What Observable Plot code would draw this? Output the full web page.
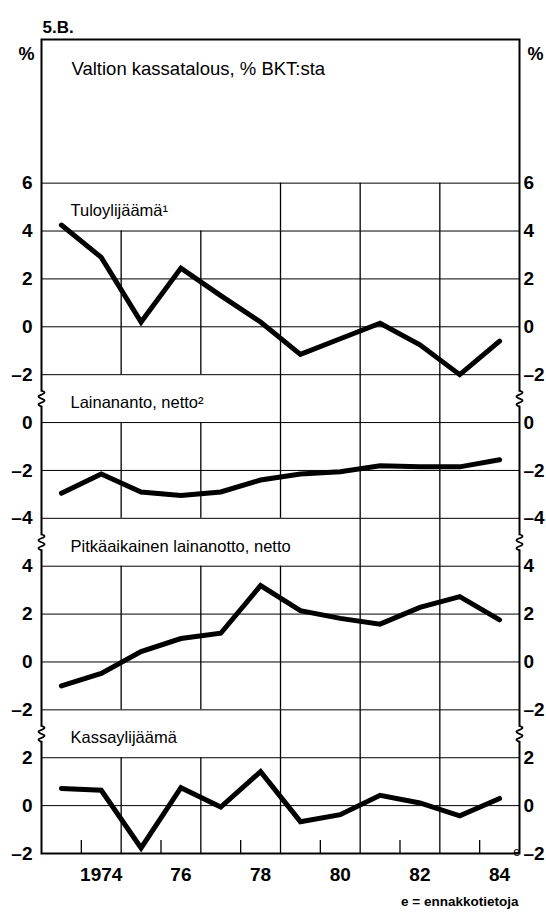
<!DOCTYPE html>
<html>
<head>
<meta charset="utf-8">
<script src="https://cdn.jsdelivr.net/npm/d3@7"></script>
<script src="https://cdn.jsdelivr.net/npm/@observablehq/plot@0.6"></script>
<style>
  body { margin: 0; background: #fff; }
  #chart svg { display: block; }
</style>
</head>
<body>
<div id="chart"></div>
<script>
// ---------- data ----------
const years = [1973, 1974, 1975, 1976, 1977, 1978, 1979, 1980, 1981, 1982, 1983, 1984];
const tuloylijaama  = [4.25, 2.9, 0.2, 2.45, 1.3, 0.2, -1.15, -0.5, 0.15, -0.75, -2.0, -0.6];
const lainananto    = [-2.95, -2.15, -2.9, -3.05, -2.9, -2.4, -2.15, -2.05, -1.8, -1.85, -1.85, -1.55];
const pitkaaikainen = [-1.0, -0.48, 0.43, 0.98, 1.2, 3.19, 2.14, 1.82, 1.58, 2.28, 2.73, 1.76];
const kassaylijaama = [0.72, 0.64, -1.77, 0.75, -0.06, 1.42, -0.67, -0.38, 0.43, 0.11, -0.43, 0.3];
const panelLabels = ["Tuloylijäämä\u00b9", "Lainananto, netto\u00b2", "Pitkäaikainen lainanotto, netto", "Kassaylijäämä"];
const panelTicks = [[-2, 0, 2, 4, 6], [-4, -2, 0], [-2, 0, 2, 4], [-2, 0, 2]];
const yearTickValues = [1974, 1976, 1978, 1980, 1982, 1984];
const yearTickLabels = ["1974", "76", "78", "80", "82", "84"];
const chartNumber = "5.B.";
const chartTitle = "Valtion kassatalous, % BKT:sta";
const unitLabel = "%";
const footnote = "e = ennakkotietoja";
const estimateMark = "e";

// ---------- layout helpers ----------
const series = [tuloylijaama, lainananto, pitkaaikainen, kassaylijaama];
const GAP = 2, HEADER = 6;
const offsets = new Array(panelTicks.length);
let topV = null;
for (let i = panelTicks.length - 1; i >= 0; --i) {
  const t = panelTicks[i];
  offsets[i] = topV === null ? 0 : topV + GAP - t[0];
  topV = t[t.length - 1] + offsets[i];
}
const yMin = panelTicks[panelTicks.length - 1][0] + offsets[panelTicks.length - 1];
const yMax = topV + HEADER;

const tickMap = new Map();
panelTicks.forEach((t, i) => t.forEach(v => tickMap.set(v + offsets[i], v < 0 ? "\u2013" + (-v) : String(v))));
const tickPos = [...tickMap.keys()];

const lineData = series.flatMap((vals, i) => vals.map((v, j) => ({panel: i, year: years[j], y: v + offsets[i]})));

const gridYears = yearTickValues.slice(0, -1).map(y => y + 0.5);
const minorTicks = yearTickValues.map(y => y - 0.5);
const headerGridFrom = [1978.5, 1978.5, 1980.5, 1978.5];
const vsegs = [];
const labelPos = [];
const breaks = [];
panelTicks.forEach((t, i) => {
  const lo = t[0] + offsets[i], hi = t[t.length - 1] + offsets[i];
  const bandLo = i === 0 ? hi - 2 : hi, bandHi = bandLo + 2;
  gridYears.forEach(g => {
    vsegs.push({x: g, y1: lo, y2: bandLo});
    if (g >= headerGridFrom[i]) vsegs.push({x: g, y1: bandLo, y2: bandHi});
  });
  labelPos.push({text: panelLabels[i], y: (bandLo + bandHi) / 2});
  if (i > 0) breaks.push(hi + GAP / 2);
});

const yearLabel = new Map(yearTickValues.map((v, i) => [v, yearTickLabels[i]]));
const pxPerUnit = (914 - 39 - 61) / (yMax - yMin);

// break symbol (vertical squiggle) and a white gap behind it
const squiggle = {
  draw(ctx) {
    ctx.moveTo(0, -8);
    ctx.quadraticCurveTo(6, -6, 0, -4);
    ctx.quadraticCurveTo(-6, -2, 0, 0);
    ctx.quadraticCurveTo(6, 2, 0, 4);
    ctx.quadraticCurveTo(-6, 6, 0, 8);
  }
};
const gapRect = {
  draw(ctx) { ctx.rect(-2, -7, 4, 14); }
};

const font = "'Liberation Sans', Arial, Helvetica, sans-serif";

const chart = Plot.plot({
  width: 546,
  height: 914,
  marginTop: 39,
  marginBottom: 61,
  marginLeft: 41,
  marginRight: 27,
  x: {domain: [1972.5, 1984.5]},
  y: {domain: [yMin, yMax]},
  style: {fontFamily: font, color: "#000", background: "#fff", overflow: "visible"},
  marks: [
    Plot.ruleY(tickPos, {stroke: "#000", strokeWidth: 1}),
    Plot.ruleX(vsegs, {x: "x", y1: "y1", y2: "y2", stroke: "#000", strokeWidth: 1.3}),
    Plot.ruleX(minorTicks, {x: d => d, y1: yMin, y2: yMin + 13 / pxPerUnit, stroke: "#000", strokeWidth: 1.3}),
    Plot.frame({stroke: "#000", strokeWidth: 2}),
    Plot.line(lineData, {x: "year", y: "y", z: "panel", stroke: "#000", strokeWidth: 5, strokeLinejoin: "miter", strokeMiterlimit: 3}),
    Plot.axisY({anchor: "left", ticks: tickPos, tickFormat: v => tickMap.get(v), tickSize: 0, tickPadding: 9,
      fontSize: 19, fontWeight: "bold", label: null}),
    Plot.axisY({anchor: "right", ticks: tickPos, tickFormat: v => tickMap.get(v), tickSize: 0, tickPadding: 4,
      fontSize: 19, fontWeight: "bold", label: null}),
    Plot.axisX({ticks: yearTickValues, tickFormat: v => yearLabel.get(v), tickSize: 0, tickPadding: 14,
      fontSize: 19, fontWeight: "bold", label: null}),
    // break squiggles on both frame edges
    Plot.dot(breaks, {y: d => d, frameAnchor: "left", symbol: gapRect, fill: "#fff", stroke: null, r: 5}),
    Plot.dot(breaks, {y: d => d, frameAnchor: "right", symbol: gapRect, fill: "#fff", stroke: null, r: 5}),
    Plot.dot(breaks, {y: d => d, frameAnchor: "left", symbol: squiggle, fill: "none", stroke: "#000", strokeWidth: 1.8, r: 5}),
    Plot.dot(breaks, {y: d => d, frameAnchor: "right", symbol: squiggle, fill: "none", stroke: "#000", strokeWidth: 1.8, r: 5}),
    // panel labels
    Plot.text(labelPos, {y: "y", text: "text", frameAnchor: "left", dx: 29, dy: 4, textAnchor: "start", fontSize: 16.5}),
    // title and unit labels
    Plot.text([chartTitle], {frameAnchor: "top-left", dx: 30, dy: 22, textAnchor: "start", fontSize: 18.5}),
    Plot.text([chartNumber], {frameAnchor: "top-left", dx: 1, dy: -19, textAnchor: "start", fontSize: 17, fontWeight: "bold"}),
    Plot.text([unitLabel], {frameAnchor: "top-left", dx: -7, dy: 8, textAnchor: "end", fontSize: 18, fontWeight: "bold"}),
    Plot.text([unitLabel], {frameAnchor: "top-right", dx: 8, dy: 8, textAnchor: "start", fontSize: 18, fontWeight: "bold"}),
    // estimate superscript and footnote
    Plot.text([yearTickValues[yearTickValues.length - 1]], {x: d => d, y: yMin, dx: 17, dy: -1, text: () => estimateMark, fontSize: 12}),
    Plot.text([footnote], {frameAnchor: "bottom-right", dx: -1, dy: 52, textAnchor: "end", fontSize: 13.5, fontWeight: "bold"})
  ]
});
document.getElementById("chart").appendChild(chart);
</script>
</body>
</html>
